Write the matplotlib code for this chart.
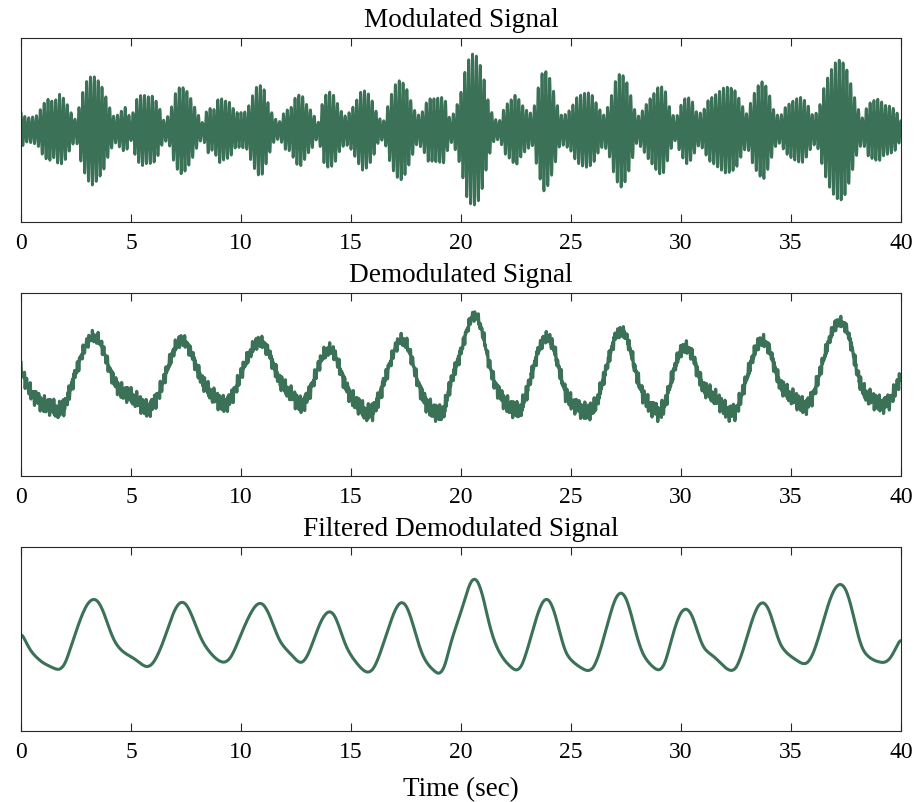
import numpy as np
import matplotlib
matplotlib.use("Agg")
import matplotlib.pyplot as plt

plt.rcParams["font.family"] = ["Liberation Serif", "DejaVu Serif"]

# ---- data -------------------------------------------------------------
# sample instants of the slow message / envelope (s)
time_knots = np.linspace(0.0, 40.0, 161)

# baseband message recovered by the detector (normalised amplitude)
message = [
    0.09, -0.05, -0.15, -0.21, -0.26, -0.29, -0.32, -0.34,
    -0.28, -0.10, 0.08, 0.25, 0.38, 0.44, 0.42, 0.30,
    0.12, -0.03, -0.11, -0.16, -0.19, -0.23, -0.28, -0.31,
    -0.27, -0.16, -0.01, 0.17, 0.33, 0.41, 0.39, 0.27,
    0.11, -0.03, -0.12, -0.19, -0.24, -0.26, -0.22, -0.10,
    0.05, 0.19, 0.31, 0.39, 0.39, 0.29, 0.13, -0.02,
    -0.10, -0.16, -0.23, -0.27, -0.20, -0.05, 0.12, 0.25,
    0.31, 0.27, 0.11, -0.07, -0.18, -0.26, -0.33, -0.37,
    -0.34, -0.21, -0.03, 0.15, 0.32, 0.41, 0.38, 0.22,
    0.00, -0.18, -0.28, -0.34, -0.39, -0.32, -0.07, 0.12,
    0.29, 0.50, 0.66, 0.65, 0.47, 0.19, -0.02, -0.15,
    -0.24, -0.30, -0.35, -0.31, -0.13, 0.08, 0.29, 0.43,
    0.44, 0.30, 0.06, -0.15, -0.23, -0.28, -0.32, -0.35,
    -0.33, -0.19, 0.02, 0.24, 0.44, 0.52, 0.46, 0.26,
    0.02, -0.16, -0.25, -0.31, -0.35, -0.29, -0.07, 0.15,
    0.30, 0.34, 0.27, 0.08, -0.09, -0.15, -0.19, -0.25,
    -0.31, -0.35, -0.33, -0.18, 0.02, 0.22, 0.37, 0.41,
    0.33, 0.13, -0.06, -0.14, -0.19, -0.23, -0.27, -0.27,
    -0.17, 0.01, 0.22, 0.42, 0.56, 0.61, 0.55, 0.35,
    0.08, -0.12, -0.19, -0.23, -0.25, -0.26, -0.22, -0.11,
    0.02,
]

# amplitude envelope of the modulated carrier
carrier_envelope = [
    0.19, 0.13, 0.14, 0.16, 0.28, 0.34, 0.30, 0.39, 0.33,
    0.20, 0.10, 0.37, 0.54, 0.60, 0.54, 0.44, 0.26,
    0.13, 0.19, 0.25, 0.11, 0.33, 0.39, 0.36, 0.37,
    0.27, 0.10, 0.17, 0.39, 0.48, 0.44, 0.33, 0.19,
    0.08, 0.25, 0.21, 0.36, 0.32, 0.30, 0.19, 0.19,
    0.20, 0.36, 0.49, 0.48, 0.28, 0.13, 0.09, 0.21,
    0.23, 0.37, 0.39, 0.27, 0.19, 0.07, 0.35, 0.42,
    0.37, 0.22, 0.15, 0.21, 0.32, 0.44, 0.41, 0.30,
    0.13, 0.10, 0.33, 0.49, 0.55, 0.47, 0.30, 0.15,
    0.20, 0.34, 0.34, 0.35, 0.36, 0.11, 0.22, 0.41,
    0.72, 0.83, 0.80, 0.61, 0.30, 0.12, 0.10, 0.26,
    0.32, 0.39, 0.28, 0.21, 0.17, 0.45, 0.67, 0.59,
    0.39, 0.16, 0.17, 0.23, 0.35, 0.39, 0.41, 0.37,
    0.24, 0.16, 0.29, 0.52, 0.63, 0.55, 0.35, 0.13,
    0.21, 0.31, 0.39, 0.48, 0.46, 0.23, 0.11, 0.27,
    0.37, 0.32, 0.17, 0.20, 0.33, 0.37, 0.42, 0.47,
    0.46, 0.42, 0.28, 0.17, 0.36, 0.48, 0.54, 0.40,
    0.19, 0.14, 0.25, 0.30, 0.34, 0.36, 0.28, 0.15,
    0.21, 0.46, 0.62, 0.73, 0.77, 0.69, 0.48, 0.26,
    0.13, 0.28, 0.32, 0.34, 0.27, 0.26, 0.22, 0.10,
]

carrier_hz = 5.7          # carrier frequency (Hz)
sample_rate = 200.0       # simulation rate (Hz)
demod_offset = 0.06       # DC term left by the envelope detector
demod_gain = 1.04
ripple_level = 0.1        # residual carrier products after detection
lowpass_sigma = 0.1       # Gaussian low-pass width (s)

titles = ["Modulated Signal", "Demodulated Signal", "Filtered Demodulated Signal"]
x_ticks = [0, 5, 10, 15, 20, 25, 30, 35, 40]
x_label = "Time (sec)"

line_color = "#3b7257"

# ---- signals ----------------------------------------------------------
t = np.arange(0.0, 40.0 + 0.5 / sample_rate, 1.0 / sample_rate)
carrier = np.cos(2 * np.pi * carrier_hz * t)
env = np.interp(t, time_knots, carrier_envelope)
modulated = env * carrier

# detector output: baseband plus mixing products of the carrier
baseband = np.interp(t, time_knots, message)
residual = carrier * (0.6 * np.cos(2 * np.pi * 2.3 * carrier_hz * t)
                      + 0.4 * np.cos(2 * np.pi * 3.1 * carrier_hz * t + 0.7))
demodulated = (demod_offset + demod_gain * baseband
               + ripple_level * (1.0 - 0.5 * baseband) * residual)

# Gaussian low-pass stage, then DC removal and gain normalisation
half = int(4 * lowpass_sigma * sample_rate)
k_t = np.arange(-half, half + 1) / sample_rate
kernel = np.exp(-0.5 * (k_t / lowpass_sigma) ** 2)
kernel /= kernel.sum()
padded = np.pad(demodulated, half, mode="reflect")
smoothed = np.convolve(padded, kernel, mode="valid")
filtered = (smoothed - demod_offset) / demod_gain

# ---- figure -----------------------------------------------------------
fig = plt.figure(figsize=(9.2, 8.02), dpi=100)
rects = [
    [0.0228, 0.7232, 0.9565, 0.2294],
    [0.0228, 0.4065, 0.9565, 0.2282],
    [0.0228, 0.0885, 0.9565, 0.2295],
]
series = [(modulated, 2.0), (demodulated, 2.3), (filtered, 2.2)]

for rect, title, (ys, lw) in zip(rects, titles, series):
    ax = fig.add_axes(rect)
    ax.plot(t, ys, color=line_color, lw=lw, solid_joinstyle="round")
    ax.set_xlim(0, 40)
    ax.set_ylim(-1, 1)
    ax.set_xticks(x_ticks)
    ax.set_yticks([])
    ax.tick_params(axis="x", direction="in", length=6, width=0.8,
                   top=True, labelsize=17, pad=8, colors="#262626",
                   labelcolor="black")
    for sp in ax.spines.values():
        sp.set_color("#262626")
        sp.set_linewidth(0.8)
    ax.set_title(title, fontsize=19.6, pad=8)

ax.set_xlabel(x_label, fontsize=19.5, labelpad=10)

fig.savefig("out.png", dpi=100)
